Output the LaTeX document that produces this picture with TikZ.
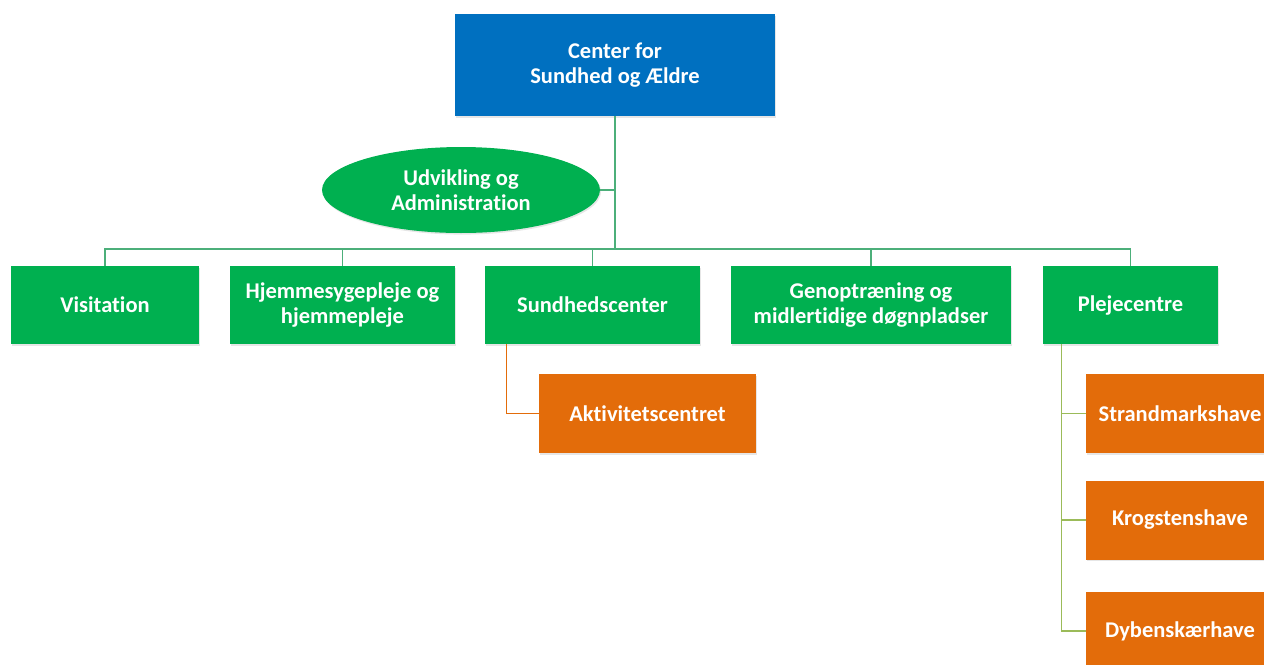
\documentclass[tikz,border=0pt]{standalone}
\usepackage{fontspec}
\setmainfont{Carlito}[Ligatures=NoCommon]
\usetikzlibrary{shapes.geometric,shadows}
\definecolor{topblue}{HTML}{0070C0}
\definecolor{boxgreen}{HTML}{00B050}
\definecolor{boxorange}{HTML}{E36C0A}
\definecolor{linegreen}{HTML}{4CAF7A}
\definecolor{lineolive}{HTML}{9BBB59}
\definecolor{lineorange}{HTML}{E36C0A}

\begin{document}
\begin{tikzpicture}[x=0.02cm,y=-0.02cm]
      \useasboundingbox (0,0) rectangle (1264,664);
      \begin{scope}[every node/.style={text=white,align=center,inner sep=0pt,
          font=\bfseries\fontsize{12.8}{14.2}\selectfont,
          drop shadow={shadow xshift=0.6pt,shadow yshift=-0.9pt,opacity=0.2}}]
        \node[fill=topblue,minimum width=6.4cm,minimum height=2.04cm] (center) at (615,65) {Center for\\Sundhed og Ældre};
        \node[fill=boxgreen,ellipse,minimum width=5.56cm,minimum height=1.72cm] (admin) at (461,190) {Udvikling og\\Administration};
        \node[fill=boxgreen,minimum width=3.76cm,minimum height=1.56cm] (visit) at (105,305) {Visitation};
        \node[fill=boxgreen,minimum width=4.5cm,minimum height=1.56cm] (hjem) at (342.5,305) {Hjemmesygepleje og\\hjemmepleje};
        \node[fill=boxgreen,minimum width=4.3cm,minimum height=1.56cm] (sund) at (592.5,305) {Sundhedscenter};
        \node[fill=boxgreen,minimum width=5.6cm,minimum height=1.56cm] (genop) at (871,305) {Genoptræning og\\midlertidige døgnpladser};
        \node[fill=boxgreen,minimum width=3.5cm,minimum height=1.56cm] (pleje) at (1130.5,305) {Plejecentre};
        \node[fill=boxorange,minimum width=4.34cm,minimum height=1.58cm] (aktiv) at (647.5,413.5) {Aktivitetscentret};
        \node[fill=boxorange,minimum width=3.76cm,minimum height=1.58cm] (strand) at (1180,413.5) {Strandmarkshave};
        \node[fill=boxorange,minimum width=3.76cm,minimum height=1.58cm] (krog) at (1180,520) {Krogstenshave};
        \node[fill=boxorange,minimum width=3.76cm,minimum height=1.58cm] (dyben) at (1180,631) {Dybenskærhave};
      \end{scope}
      \coordinate (bus) at (615,249);
      \begin{scope}[line width=0.85pt]
        \draw[linegreen] (center.south) -- (bus);
        \draw[linegreen] (admin.east) -- (admin.east -| center.south);
        \draw[linegreen] (bus) -| (visit.north);
        \draw[linegreen] (bus) -| (hjem.north);
        \draw[linegreen] (bus) -| (sund.north);
        \draw[linegreen] (bus) -| (genop.north);
        \draw[linegreen] (bus) -| (pleje.north);
        \draw[lineorange] ([xshift=0.44cm]sund.south west) |- (aktiv.west);
        \draw[lineolive] ([xshift=0.38cm]pleje.south west) |- (strand.west);
        \draw[lineolive] ([xshift=0.38cm]pleje.south west) |- (krog.west);
        \draw[lineolive] ([xshift=0.38cm]pleje.south west) |- (dyben.west);
      \end{scope}
    \end{tikzpicture}
\end{document}
